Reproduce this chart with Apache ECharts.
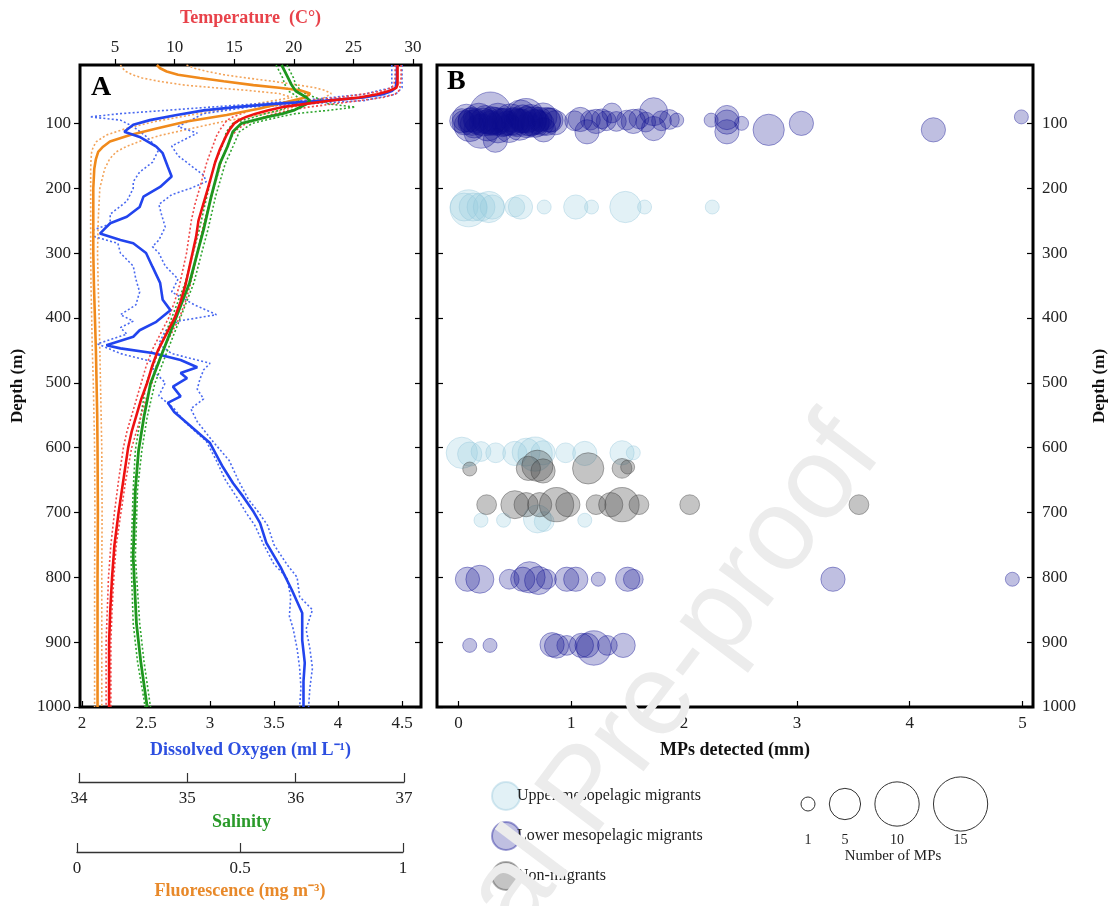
<!DOCTYPE html>
<html><head><meta charset="utf-8">
<script src="https://cdn.jsdelivr.net/npm/echarts@6/dist/echarts.min.js"></script>
<style>html,body{margin:0;padding:0;background:#fff}#c{width:1116px;height:906px}</style>
</head><body><div id="c"></div>
<script>
// ---------------- DATA ----------------
const depthTicks = [100,200,300,400,500,600,700,800,900,1000];
const doTicks = [2,2.5,3,3.5,4,4.5];
const tempTicks = [5,10,15,20,25,30];
const mpTicks = [0,1,2,3,4,5];

// Temperature (C)
const tempDepth = [10,20,30,40,45,50,55,60,65,70,75,80,85,90,95,100,110,120,140,160,180,200,225,250,275,300,325,350,375,400,425,450,475,500,525,550,575,600,650,700,750,800,850,900,950,1000];
const tempMean  = [28.7,28.7,28.7,28.7,28.6,28.0,27.0,25.5,23.0,21.0,19.0,17.8,16.8,16.0,15.4,15.0,14.6,14.3,13.8,13.4,13.1,12.8,12.4,12.0,11.8,11.5,11.2,10.9,10.5,10.0,9.3,8.6,8.1,7.7,7.2,6.8,6.4,6.1,5.7,5.3,4.95,4.75,4.6,4.5,4.5,4.5];
const tempLow   = [28.5,28.5,28.5,28.4,28.2,27.4,25.8,23.8,21.2,19.3,17.6,16.4,15.6,14.9,14.4,14.2,13.8,13.5,13.1,12.7,12.4,12.1,11.7,11.4,11.2,11.0,10.7,10.4,10.0,9.5,8.8,8.1,7.6,7.2,6.8,6.4,6.0,5.7,5.3,4.95,4.65,4.45,4.35,4.25,4.25,4.25];
const tempHigh  = [29.0,29.0,29.0,28.9,28.9,28.8,28.5,27.5,25.5,23.3,21.2,19.6,18.4,17.5,16.8,16.0,15.2,14.8,14.3,13.9,13.6,13.3,12.9,12.5,12.2,11.9,11.6,11.3,10.9,10.4,9.7,9.0,8.5,8.1,7.6,7.2,6.8,6.4,5.9,5.5,5.1,4.9,4.75,4.65,4.65,4.65];

// Dissolved oxygen (ml/L)
const doDepth = [10,30,45,50,55,60,65,70,75,80,87,95,102,113,121,136,146,167,182,198,213,229,244,254,262,270,280,285,300,321,346,372,388,406,419,429,442,447,454,465,476,485,493,506,521,531,545,562,593,630,655,676,699,716,747,784,820,855,897,932,960,989,1000];
const doMean  = [4.46,4.46,4.45,4.42,4.35,4.2,3.9,3.5,3.2,2.95,2.74,2.53,2.4,2.33,2.45,2.58,2.63,2.67,2.7,2.61,2.48,2.45,2.35,2.22,2.18,2.14,2.3,2.4,2.5,2.55,2.61,2.63,2.69,2.58,2.45,2.4,2.19,2.3,2.55,2.77,2.9,2.77,2.82,2.71,2.77,2.67,2.72,2.82,3.0,3.1,3.18,3.26,3.34,3.39,3.44,3.55,3.64,3.72,3.72,3.74,3.73,3.73,3.73];
const doLoDepth = [10,45,55,65,75,85,90,95,105,120,140,160,175,190,200,220,240,255,265,275,285,300,320,340,360,380,395,405,415,425,440,455,470,480,500,520,540,560,590,620,650,680,700,720,750,780,800,830,860,880,910,940,970,1000];
const doLo      = [4.42,4.42,4.2,3.7,3.0,2.3,2.06,2.3,2.4,2.5,2.6,2.55,2.45,2.4,2.4,2.35,2.22,2.22,2.08,2.1,2.28,2.3,2.4,2.42,2.45,2.42,2.3,2.4,2.3,2.35,2.12,2.3,2.6,2.55,2.65,2.6,2.72,2.8,2.97,3.05,3.12,3.22,3.28,3.35,3.42,3.5,3.6,3.63,3.62,3.65,3.68,3.7,3.71,3.7];
const doHiDepth = [10,45,55,65,75,85,95,105,115,125,135,150,165,180,190,200,210,225,240,260,280,290,300,320,340,360,380,395,405,420,440,455,470,480,495,510,525,540,560,590,620,650,680,700,720,750,780,800,830,850,880,910,940,970,1000];
const doHi      = [4.5,4.5,4.45,4.2,3.3,2.95,2.85,2.75,2.9,2.8,2.7,2.75,2.85,2.95,2.97,2.85,2.7,2.6,2.62,2.65,2.6,2.55,2.6,2.65,2.75,2.7,2.88,3.05,2.75,2.65,2.6,2.7,3.0,2.95,2.92,2.9,2.95,2.85,2.9,3.02,3.15,3.22,3.3,3.38,3.45,3.5,3.6,3.68,3.7,3.8,3.75,3.78,3.8,3.78,3.77];

// Salinity
const salDepth = [10,20,30,40,50,55,60,65,70,75,80,85,90,100,113,136,162,213,264,295,346,398,449,501,552,604,665,768,871,930,989,1000];
const salMean  = [35.87,35.9,35.93,35.96,36.0,36.05,36.1,36.13,36.1,36.04,35.98,35.88,35.74,35.5,35.42,35.37,35.3,35.22,35.15,35.1,35.02,34.9,34.78,34.66,34.6,34.55,34.52,34.5,34.53,34.57,34.62,34.63];
const salHigh  = [35.92,35.95,35.98,36.0,36.05,36.1,36.18,36.25,36.3,36.55,36.3,36.0,35.85,35.6,35.48,35.42,35.35,35.26,35.19,35.14,35.06,34.94,34.82,34.7,34.63,34.58,34.54,34.52,34.56,34.6,34.65,34.66];
const salLow   = [35.82,35.85,35.88,35.9,35.93,35.98,36.02,36.03,36.0,35.92,35.85,35.72,35.62,35.42,35.36,35.32,35.25,35.18,35.11,35.06,34.98,34.86,34.74,34.62,34.57,34.52,34.5,34.48,34.5,34.54,34.6,34.61];

// Fluorescence (mg m-3)
const flDepth = [10,15,20,25,30,35,41,45,49,54,60,67,77,87,97,108,118,128,136,144,155,170,200,250,300,350,400,450,500,550,600,700,800,900,1000];
const flMean  = [0.245,0.255,0.275,0.31,0.377,0.45,0.541,0.62,0.684,0.715,0.70,0.643,0.561,0.459,0.336,0.244,0.163,0.101,0.08,0.065,0.058,0.053,0.05,0.05,0.05,0.052,0.055,0.058,0.06,0.062,0.063,0.064,0.063,0.063,0.063];
const flLow   = [0.133,0.14,0.15,0.17,0.2,0.25,0.33,0.42,0.52,0.62,0.66,0.58,0.47,0.35,0.24,0.15,0.09,0.06,0.05,0.045,0.043,0.042,0.042,0.042,0.042,0.043,0.045,0.047,0.05,0.052,0.054,0.055,0.054,0.054,0.054];
const flHigh  = [0.336,0.36,0.40,0.45,0.52,0.6,0.68,0.73,0.76,0.78,0.76,0.72,0.65,0.56,0.45,0.35,0.26,0.19,0.15,0.12,0.1,0.085,0.07,0.065,0.063,0.065,0.068,0.07,0.072,0.074,0.076,0.077,0.076,0.076,0.076];

// Panel B bubbles: MP size (mm), depth (m), number of MPs
const upperMP    = [0.09,0.05,0.13,0.2,0.27,0.3,0.5,0.55,0.76,1.04,1.18,1.48,1.65,2.25, 0.03,0.1,0.2,0.33,0.5,0.6,0.68,0.75,0.95,1.12,1.45,1.55, 0.2,0.4,0.7,0.76,1.12];
const upperDepth = [231,229,229,229,229,229,229,229,229,229,229,229,229,229, 608,610,606,608,609,607,610,608,608,609,608,608, 712,712,710,714,712];
const upperCount = [7,4,4,4,5,3,2,3,1,3,1,5,1,1, 5,3,2,2,3,4,6,3,2,3,3,1, 1,1,4,2,1];

const lowerMP    = [0.03,0.07,0.106,0.14,0.18,0.22,0.26,0.283,0.3,0.327,0.35,0.39,0.43,0.46,0.5,0.54,0.57,0.61,0.64,0.68,0.72,0.755,0.78,0.82,0.86,0.2,0.45,0.6,
  0.05,0.12,0.16,0.24,0.28,0.33,0.37,0.41,0.48,0.52,0.56,0.62,0.66,0.7,0.74,0.8,0.1,0.35,0.55,0.75,
  1.03,1.08,1.14,1.17,1.22,1.27,1.31,1.36,1.4,1.49,1.55,1.6,1.66,1.73,1.73,1.8,1.87,1.935,2.24,2.38,2.38,2.38,2.51,2.75,3.04,4.21,4.99,
  0.08,0.19,0.45,0.57,0.63,0.71,0.78,0.96,1.04,1.24,1.5,1.55,3.32,4.91,
  0.1,0.28,0.83,0.87,0.96,1.09,1.14,1.2,1.32,1.46];
const lowerDepth = [96,92,95,101,93,98,103,84,96,126,93,99,100,94,97,102,93,98,95,100,94,110,97,95,99,112,108,88,
  99,97,96,94,100,97,95,98,95,99,96,101,96,98,100,95,104,106,88,90,
  96,94,113,95,97,93,96,84,97,95,97,93,98,82,108,96,94,95,95,91,98,113,100,110,100,110,90,
  803,803,803,803,800,805,803,803,803,803,803,803,803,803,
  905,905,904,906,905,905,905,909,905,905];
const lowerCount = [3,4,3,4,5,4,5,9,4,3,5,4,3,5,4,5,4,5,5,4,3,3,4,3,3,6,4,6,
  3,4,3,4,3,4,3,4,3,4,3,3,4,3,3,3,5,5,5,4,
  2,3,3,2,3,2,2,2,2,2,3,2,2,4,3,2,2,1,1,3,3,3,1,5,3,3,1,
  3,4,2,3,5,4,2,3,3,1,3,2,3,1,
  1,1,3,3,2,3,3,6,2,3];

const nonMP    = [0.1,0.62,0.7,0.75,1.15,1.45,1.5, 0.25,0.5,0.6,0.72,0.87,0.97,1.22,1.35,1.45,1.6,2.05,3.55];
const nonDepth = [633,632,628,636,632,632,630, 688,688,688,688,688,688,688,688,688,688,688,688];
const nonCount = [1,3,5,3,5,2,1, 2,4,3,3,6,3,2,3,6,2,2,2];

const sizeLegendValues = [1,5,10,15];
const groupNames = ['Upper mesopelagic migrants','Lower mesopelagic migrants','Non-migrants'];

// ---------------- CHART ----------------
const serif = '"Liberation Serif","Times New Roman",serif';
const pairs = (xs, ds) => xs.map((v, i) => [v, ds[i]]);
const triples = (xs, ds, ns) => xs.map((v, i) => [v, ds[i], ns[i]]);
const bubbleSize = n => 14 * Math.sqrt(n);

const tickFont = {fontFamily: serif, fontSize: 17, color: '#222'};

function lineSeries(xi, data, color, width, dotted, z) {
  return {type: 'line', xAxisIndex: xi, yAxisIndex: 0, data: data, symbol: 'none', animation: false,
    z: z || 2,
    lineStyle: {color: color, width: width, type: dotted ? [2, 2.2] : 'solid'}};
}

function depthAxis(grid, pos, showLabel, inside) {
  return {type: 'value', gridIndex: grid, position: pos, inverse: true, min: 10, max: 1000,
    axisLine: {show: false, onZero: false}, splitLine: {show: false},
    axisTick: {show: true, inside: inside, length: 6, customValues: depthTicks, lineStyle: {color: '#000', width: 1.2}},
    axisLabel: {show: showLabel, customValues: depthTicks, margin: 9, formatter: v => String(v), ...tickFont}};
}

const option = {
  backgroundColor: '#fff',
  animation: false,
  grid: [
    {left: 80, top: 65, width: 341, height: 642, show: true, borderColor: '#000', borderWidth: 3, containLabel: false},
    {left: 437, top: 65, width: 597, height: 642, show: true, borderColor: '#000', borderWidth: 3, containLabel: false},
    {left: 79, top: 781, width: 325, height: 1},
    {left: 77, top: 851, width: 326, height: 1}
  ],
  xAxis: [
    {type: 'value', gridIndex: 0, position: 'bottom', min: 1.984, max: 4.648,
      axisLine: {show: false, onZero: false}, splitLine: {show: false},
      axisTick: {inside: true, length: 6, customValues: doTicks, lineStyle: {color: '#000', width: 1.2}},
      axisLabel: {customValues: doTicks, margin: 8, ...tickFont},
      name: 'Dissolved Oxygen (ml L⁻¹)', nameLocation: 'middle', nameGap: 34,
      nameTextStyle: {fontFamily: serif, fontSize: 18, fontWeight: 'bold', color: '#2d4fe0'}},
    {type: 'value', gridIndex: 0, position: 'top', min: 2.06, max: 30.67,
      axisLine: {show: false, onZero: false}, splitLine: {show: false},
      axisTick: {inside: false, length: 6, customValues: tempTicks, lineStyle: {color: '#000', width: 1.2}},
      axisLabel: {customValues: tempTicks, margin: 9, ...tickFont},
      name: 'Temperature  (C°)', nameLocation: 'middle', nameGap: 38,
      nameTextStyle: {fontFamily: serif, fontSize: 18, fontWeight: 'bold', color: '#e8424a'}},
    {type: 'value', gridIndex: 0, show: false, min: 34.009, max: 37.157},
    {type: 'value', gridIndex: 0, show: false, min: 0.0092, max: 1.0552},
    {type: 'value', gridIndex: 1, position: 'bottom', min: -0.19, max: 5.093,
      axisLine: {show: false, onZero: false}, splitLine: {show: false},
      axisTick: {inside: true, length: 6, customValues: mpTicks, lineStyle: {color: '#000', width: 1.2}},
      axisLabel: {customValues: mpTicks, margin: 8, ...tickFont},
      name: 'MPs detected (mm)', nameLocation: 'middle', nameGap: 34,
      nameTextStyle: {fontFamily: serif, fontSize: 18, fontWeight: 'bold', color: '#111'}},
    {type: 'value', gridIndex: 2, position: 'bottom', min: 34, max: 37, interval: 1,
      axisLine: {show: true, onZero: false, lineStyle: {color: '#333', width: 1.3}}, splitLine: {show: false},
      axisTick: {inside: true, length: 9, lineStyle: {color: '#333', width: 1.2}},
      axisLabel: {margin: 8, ...tickFont},
      name: 'Salinity', nameLocation: 'middle', nameGap: 31,
      nameTextStyle: {fontFamily: serif, fontSize: 18, fontWeight: 'bold', color: '#2a9a2a'}},
    {type: 'value', gridIndex: 3, position: 'bottom', min: 0, max: 1, interval: 0.5,
      axisLine: {show: true, onZero: false, lineStyle: {color: '#333', width: 1.3}}, splitLine: {show: false},
      axisTick: {inside: true, length: 9, lineStyle: {color: '#333', width: 1.2}},
      axisLabel: {margin: 8, ...tickFont},
      name: 'Fluorescence (mg m⁻³)', nameLocation: 'middle', nameGap: 30,
      nameTextStyle: {fontFamily: serif, fontSize: 18, fontWeight: 'bold', color: '#e8892a'}}
  ],
  yAxis: [
    Object.assign(depthAxis(0, 'left', true, false), {name: 'Depth (m)', nameLocation: 'middle', nameGap: 54, nameRotate: 90,
      nameTextStyle: {fontFamily: serif, fontSize: 17, fontWeight: 'bold', color: '#111'}}),
    depthAxis(0, 'right', false, true),
    depthAxis(1, 'left', false, true),
    Object.assign(depthAxis(1, 'right', true, true), {name: 'Depth (m)', nameLocation: 'middle', nameGap: 58, nameRotate: 90,
      nameTextStyle: {fontFamily: serif, fontSize: 17, fontWeight: 'bold', color: '#111'}}),
    {type: 'value', gridIndex: 2, show: false},
    {type: 'value', gridIndex: 3, show: false}
  ],
  legend: {
    left: 486, top: 776, orient: 'vertical', itemWidth: 28, itemHeight: 28, itemGap: 10, icon: 'circle',
    textStyle: {fontFamily: serif, fontSize: 16, color: '#222', padding: [0, 0, 0, -8]},
    data: groupNames
  },
  series: [
    // Fluorescence
    lineSeries(3, pairs(flLow, flDepth), '#f3a45a', 1.6, true),
    lineSeries(3, pairs(flHigh, flDepth), '#f3a45a', 1.6, true),
    lineSeries(3, pairs(flMean, flDepth), '#f08a1c', 2.6, false, 3),
    // Dissolved oxygen
    lineSeries(0, pairs(doLo, doLoDepth), '#4a6af0', 1.6, true),
    lineSeries(0, pairs(doHi, doHiDepth), '#4a6af0', 1.6, true),
    lineSeries(0, pairs(doMean, doDepth), '#2244ee', 2.6, false, 3),
    // Salinity
    lineSeries(2, pairs(salLow, salDepth), '#2ea52e', 1.6, true),
    lineSeries(2, pairs(salHigh, salDepth), '#2ea52e', 1.6, true),
    lineSeries(2, pairs(salMean, salDepth), '#1e961e', 2.8, false, 3),
    // Temperature
    lineSeries(1, pairs(tempLow, tempDepth), '#f04848', 1.6, true),
    lineSeries(1, pairs(tempHigh, tempDepth), '#f04848', 1.6, true),
    lineSeries(1, pairs(tempMean, tempDepth), '#ee1111', 2.6, false, 3),
    // Bubbles
    {name: groupNames[0], type: 'scatter', xAxisIndex: 4, yAxisIndex: 2, data: triples(upperMP, upperDepth, upperCount),
      symbolSize: v => bubbleSize(v[2]), animation: false,
      itemStyle: {color: 'rgba(150,205,222,0.34)', borderColor: 'rgba(140,195,215,0.45)', borderWidth: 1}},
    {name: groupNames[1], type: 'scatter', xAxisIndex: 4, yAxisIndex: 2, data: triples(lowerMP, lowerDepth, lowerCount),
      symbolSize: v => bubbleSize(v[2]), animation: false,
      itemStyle: {color: 'rgba(10,10,140,0.33)', borderColor: 'rgba(20,20,150,0.5)', borderWidth: 1}},
    {name: groupNames[2], type: 'scatter', xAxisIndex: 4, yAxisIndex: 2, data: triples(nonMP, nonDepth, nonCount),
      symbolSize: v => bubbleSize(v[2]), animation: false,
      itemStyle: {color: 'rgba(70,70,70,0.40)', borderColor: 'rgba(60,60,60,0.5)', borderWidth: 1}}
  ],
  graphic: []
};

// panel letters
option.graphic.push({type: 'text', left: 91, top: 74, z: 50,
  style: {text: 'A', font: 'bold 28px ' + serif, fill: '#000'}});
option.graphic.push({type: 'text', left: 447, top: 68, z: 50,
  style: {text: 'B', font: 'bold 28px ' + serif, fill: '#000'}});

// size legend (radii from the same size scale as bubbles)
(function () {
  let cx = 808; const gap = 14.3;
  sizeLegendValues.forEach((n, i) => {
    const r = bubbleSize(n) / 2;
    if (i > 0) cx += bubbleSize(sizeLegendValues[i - 1]) / 2 + gap + r;
    option.graphic.push({type: 'circle', z: 40, shape: {cx: cx, cy: 804, r: r},
      style: {fill: 'none', stroke: '#333', lineWidth: 1}});
    option.graphic.push({type: 'text', z: 40, x: cx, y: 840,
      style: {text: String(n), font: '14px ' + serif, fill: '#222', textAlign: 'center', textVerticalAlign: 'middle'}});
  });
  option.graphic.push({type: 'text', z: 40, x: 893, y: 856,
    style: {text: 'Number of MPs', font: '15px ' + serif, fill: '#222', textAlign: 'center', textVerticalAlign: 'middle'}});
})();

// watermark
option.graphic.push({type: 'text', z: 100, x: 588, y: 792, rotation: 53 * Math.PI / 180,
  style: {text: 'Journal Pre-proof', font: '116px "Liberation Sans", Arial, sans-serif', fill: '#ececec',
    textAlign: 'center', textVerticalAlign: 'middle'}});

const chart = echarts.init(document.getElementById('c'));
chart.setOption(option);
</script></body></html>
